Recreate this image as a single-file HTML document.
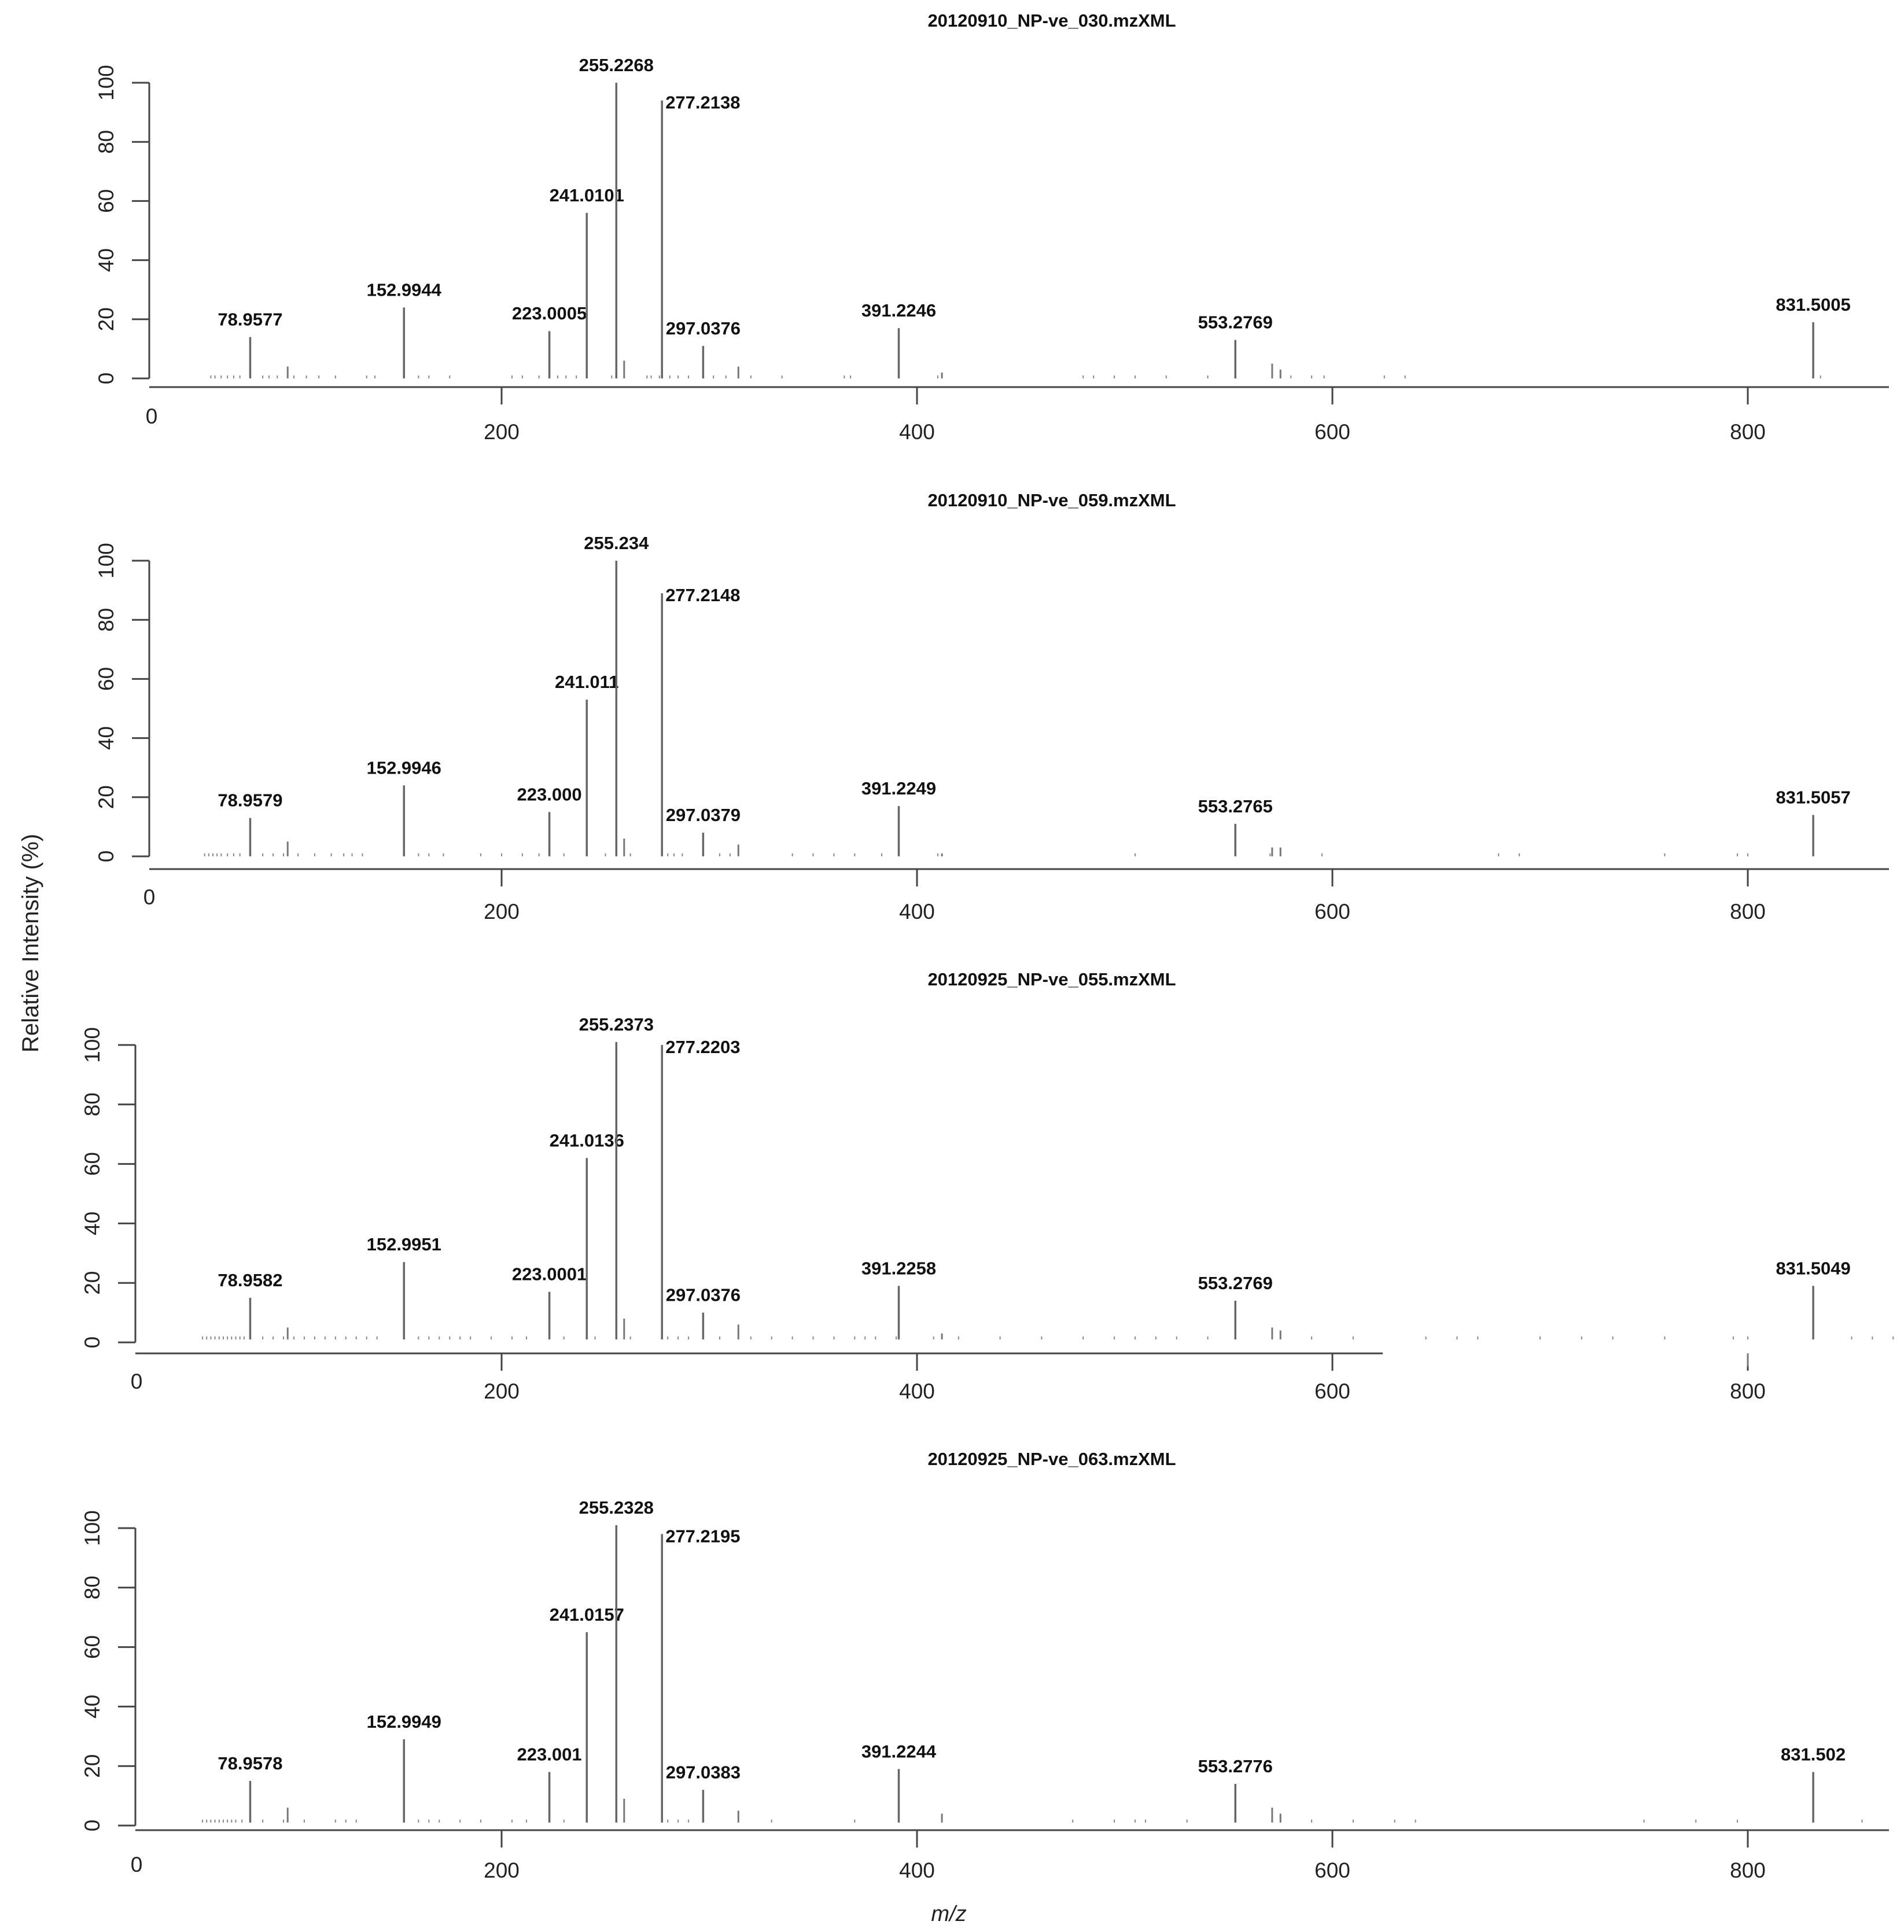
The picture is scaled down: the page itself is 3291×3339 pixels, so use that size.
<!DOCTYPE html>
<html><head><meta charset="utf-8">
<style>
html,body{margin:0;padding:0;background:#fff;}
svg{display:block;}
text{font-family:"Liberation Sans",Arial,sans-serif;}
.pl{font-family:"Liberation Sans Narrow","Liberation Sans",sans-serif;font-weight:bold;font-size:31px;fill:#111;}
.ti{font-family:"Liberation Sans Narrow","Liberation Sans",sans-serif;font-weight:bold;font-size:31px;fill:#111;}
.tk{font-size:37px;fill:#222;}
</style></head>
<body>
<svg id="chart" width="3291" height="3339" viewBox="0 0 3291 3339" xmlns="http://www.w3.org/2000/svg">
<text x="0" y="0" transform="translate(66,1630) rotate(-90)" text-anchor="middle" font-size="40" fill="#222">Relative Intensity (%)</text>
<text x="1640" y="3320" text-anchor="middle" font-size="38" font-style="italic" fill="#222">m/z</text>
</svg>
<script>
const titles = ["20120910_NP-ve_030.mzXML","20120910_NP-ve_059.mzXML","20120925_NP-ve_055.mzXML","20120925_NP-ve_063.mzXML"];
const yTicks = [0,20,40,60,80,100];
const xTicks = [200,400,600,800];
const peakMz1 = [78.9577,152.9944,223.0005,241.0101,255.2268,277.2138,297.0376,391.2246,553.2769,831.5005];
const peakInt1 = [14,24,16,56,100,94,11,17,13,19];
const peakLab1 = ["78.9577","152.9944","223.0005","241.0101","255.2268","277.2138","297.0376","391.2246","553.2769","831.5005"];
const peakMz2 = [78.9579,152.9946,223.000,241.011,255.234,277.2148,297.0379,391.2249,553.2765,831.5057];
const peakInt2 = [13,24,15,53,100,89,8,17,11,14];
const peakLab2 = ["78.9579","152.9946","223.000","241.011","255.234","277.2148","297.0379","391.2249","553.2765","831.5057"];
const peakMz3 = [78.9582,152.9951,223.0001,241.0136,255.2373,277.2203,297.0376,391.2258,553.2769,831.5049];
const peakInt3 = [15,27,17,62,101,100,10,19,14,19];
const peakLab3 = ["78.9582","152.9951","223.0001","241.0136","255.2373","277.2203","297.0376","391.2258","553.2769","831.5049"];
const peakMz4 = [78.9578,152.9949,223.001,241.0157,255.2328,277.2195,297.0383,391.2244,553.2776,831.502];
const peakInt4 = [15,29,18,65,101,98,12,19,14,18];
const peakLab4 = ["78.9578","152.9949","223.001","241.0157","255.2328","277.2195","297.0383","391.2244","553.2776","831.502"];
const minorMz = [97,259,314,412,571,575];
const minorInt1 = [4,6,4,2,5,3];
const minorInt2 = [5,6,4,1,3,3];
const minorInt3 = [5,8,6,3,5,4];
const minorInt4 = [6,9,5,4,6,4];
const noise1 = [60,62,65,68,71,74,85,88,92,100,106,112,120,135,139,160,165,175,205,210,218,227,231,236,253,270,272,276,281,285,290,302,308,320,335,365,368,410,480,485,495,505,520,540,580,590,596,625,635,835];
const noise2 = [57,59,61,63,65,68,71,74,85,90,95,102,110,118,124,128,133,160,165,172,190,200,210,218,230,250,262,280,283,287,305,310,340,350,360,370,383,410,505,570,595,680,690,760,795,800];
const noise3 = [56,58,60,62,64,66,68,70,72,74,76,85,90,95,100,105,110,115,120,125,130,135,140,160,165,170,175,180,185,195,205,212,230,245,262,280,285,290,305,320,330,340,350,360,370,375,380,390,408,420,440,460,480,495,505,515,525,540,590,610,645,660,670,700,720,735,760,793,800,850,860,870];
const noise4 = [56,58,60,62,64,66,68,70,72,75,85,95,105,120,125,130,160,165,170,180,190,205,212,230,280,285,290,330,370,475,495,505,510,530,590,610,630,640,750,775,795,855];
const panels = [
 {mz:peakMz1,it:peakInt1,lb:peakLab1,mi:minorInt1,nz:noise1,title:36,y100:143,y0:654,ax:669,lab:745,x0:258,xe:3265,base:0,zeroX:262,zeroY:732},
 {mz:peakMz2,it:peakInt2,lb:peakLab2,mi:minorInt2,nz:noise2,title:865,y100:969,y0:1480,ax:1502,lab:1574,x0:258,xe:3265,base:0,zeroX:258,zeroY:1563},
 {mz:peakMz3,it:peakInt3,lb:peakLab3,mi:minorInt3,nz:noise3,title:1693,y100:1806,y0:2320,ax:2339,lab:2403,x0:234,xe:2390,base:1,zeroX:236,zeroY:2400},
 {mz:peakMz4,it:peakInt4,lb:peakLab4,mi:minorInt4,nz:noise4,title:2522,y100:2641,y0:3155,ax:3163,lab:3231,x0:234,xe:3265,base:1,zeroX:236,zeroY:3235}
];
const svg = document.getElementById('chart');
const NS = 'http://www.w3.org/2000/svg';
function xs(m){ return 867 + (m-200)*3.59; }
function mk(tag, attrs, parent){ const e=document.createElementNS(NS,tag); for(const k in attrs) e.setAttribute(k,attrs[k]); (parent||svg).appendChild(e); return e; }
panels.forEach((p,i)=>{
  const g = mk('g',{});
  
  
  const ys = v => p.y0 - v*(p.y0-p.y100)/100;
  const t = mk('text',{x:1818,y:p.title+10,'text-anchor':'middle','class':'ti'},g); t.textContent = titles[i];
  
  
  const ya = mk('line',{x1:p.x0,y1:p.y0,x2:p.x0,y2:p.y100,stroke:'#444','stroke-width':3},g);
  
  
  yTicks.forEach(v=>{
    const y = ys(v);
    const tl = mk('line',{x1:p.x0-30,y1:y,x2:p.x0,y2:y,stroke:'#444','stroke-width':3},g);
    
    
    const tx = mk('text',{x:0,y:0,transform:`translate(${p.x0-62},${y}) rotate(-90)`,'text-anchor':'middle','class':'tk'},g);
    tx.textContent = v;
    
    
  });
  const xa = mk('line',{x1:p.x0,y1:p.ax,x2:p.xe,y2:p.ax,stroke:'#444','stroke-width':3},g);
  
  
  const z = mk('text',{x:p.zeroX,y:p.zeroY,'text-anchor':'middle','class':'tk'},g); z.textContent='0';
  
  
  xTicks.forEach(v=>{
    const x = xs(v);
    const tl = mk('line',{x1:x,y1:p.ax,x2:x,y2:p.ax+30,stroke:'#444','stroke-width':3},g);
    
    
    const tx = mk('text',{x:x,y:p.lab+14,'text-anchor':'middle','class':'tk'},g); tx.textContent = v;
    
    
  });
  const b = ys(p.base);
  p.nz.forEach(m=>{
    const l = mk('line',{x1:xs(m),y1:b,x2:xs(m),y2:ys(p.base+1),stroke:'#888','stroke-width':2},g);
    
    
  });
  minorMz.forEach((m,j)=>{
    const l = mk('line',{x1:xs(m),y1:b,x2:xs(m),y2:ys(p.mi[j]),stroke:'#777','stroke-width':3},g);
    
    
  });
  p.mz.forEach((m,j)=>{
    const x = xs(m), y = ys(p.it[j]);
    const l = mk('line',{x1:x,y1:b,x2:x,y2:y,stroke:'#666','stroke-width':3.5},g);
    
    
    let tx;
    if (Math.round(m)===277) tx = mk('text',{x:x+6,y:y+14,'text-anchor':'start','class':'pl'},g);
    else tx = mk('text',{x:x,y:y-20,'text-anchor':'middle','class':'pl'},g);
    tx.textContent = p.lb[j];
    
    
  });
  if (i===2){
    const l = mk('line',{x1:xs(800),y1:p.ax,x2:xs(800),y2:p.ax+22,stroke:'#777','stroke-width':3},g);
    
    
  }
});
</script>
</body></html>
